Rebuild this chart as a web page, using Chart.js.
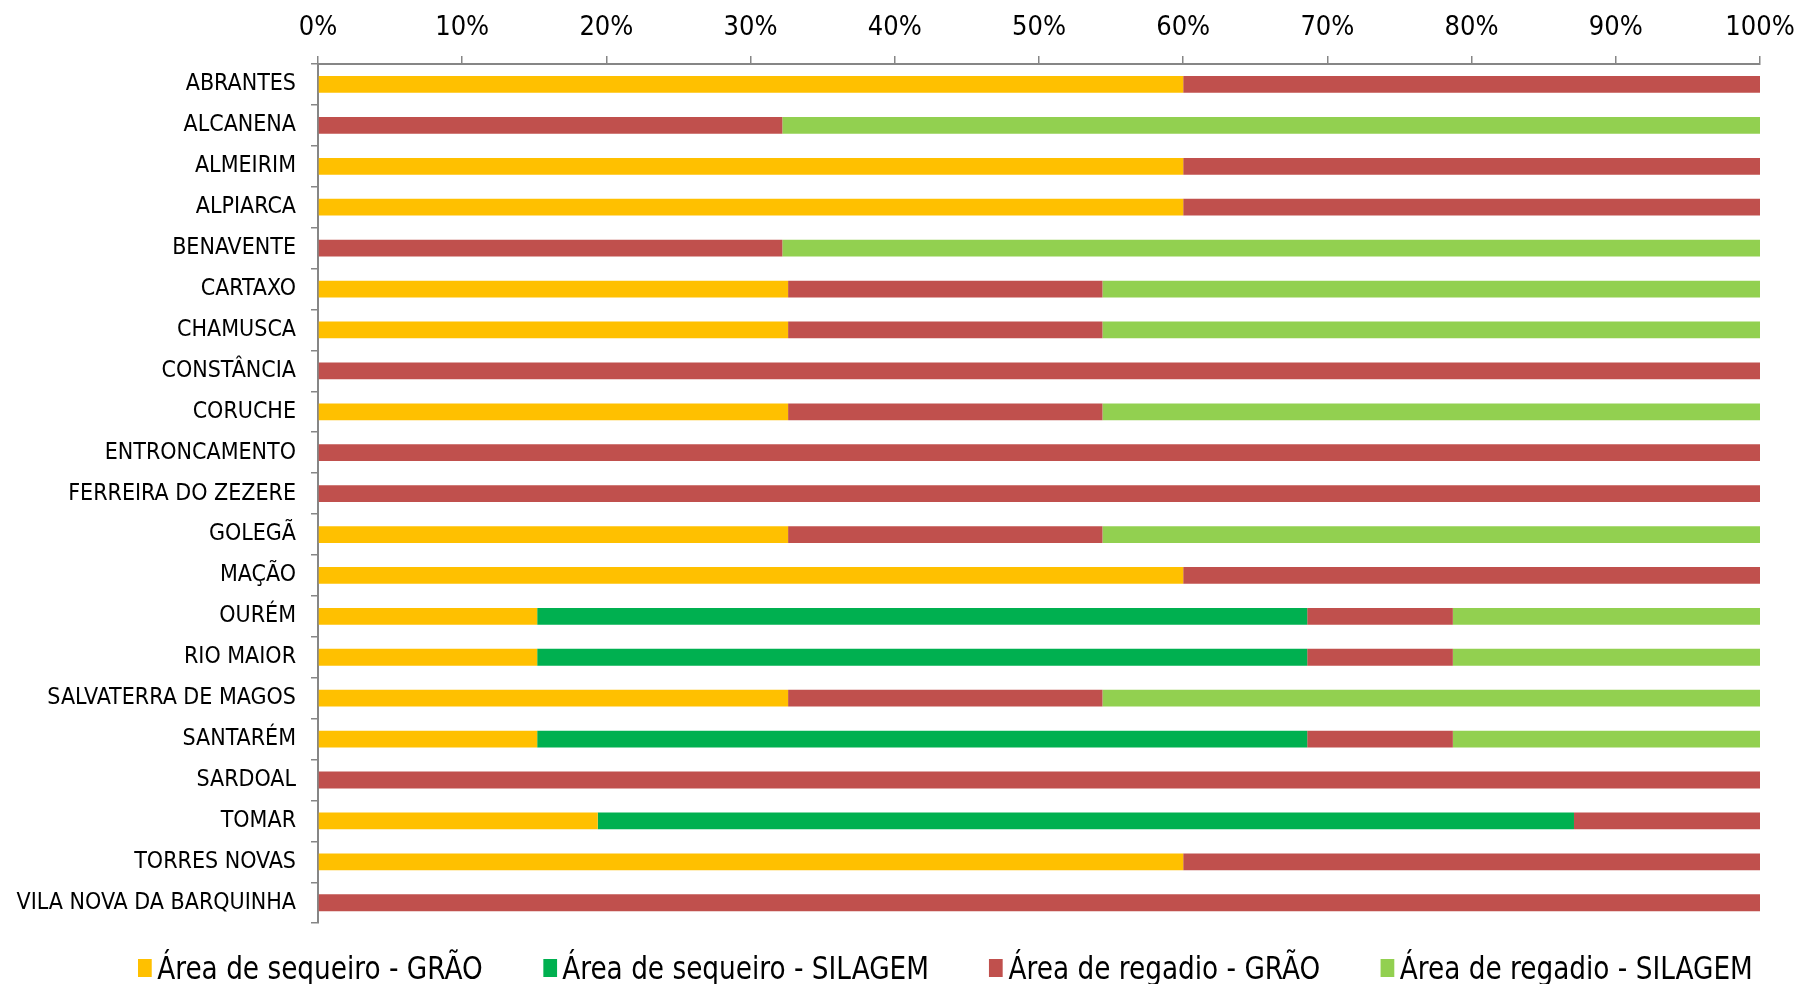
<!DOCTYPE html>
<html lang="pt">
<head>
<meta charset="utf-8">
<title>Área de sequeiro / regadio por concelho</title>
<script src="https://cdn.jsdelivr.net/npm/chart.js@4.4.1/dist/chart.umd.min.js"></script>
<style>
    body { margin: 0; background: #ffffff; }
    #wrap { position: relative; width: 1796px; height: 984px; overflow: hidden; }
    #chart-box { position: absolute; left: 0; top: 0; width: 1796px; height: 952px; }
    #legend {
        position: absolute; left: 138px; top: 946px;
        display: flex; gap: 66px;
        transform: scaleX(0.915); transform-origin: left center;
        font-family: "Liberation Sans Narrow", "DejaVu Sans Condensed", sans-serif;
        font-size: 32px; color: #000; line-height: 44px;
    }
    .item { display: flex; align-items: center; white-space: nowrap; }
    .box { display: inline-block; width: 15px; height: 18px; margin-right: 6px; }
</style>
</head>
<body>
<div id="wrap">
    <div id="chart-box"><canvas id="areaChart"></canvas></div>
    <div id="legend"></div>
</div>
<script>
// ----------------------------------------------------------
// Dados (percentagem da área por concelho)
// ----------------------------------------------------------
const municipios = [
    "ABRANTES", "ALCANENA", "ALMEIRIM", "ALPIARCA", "BENAVENTE", "CARTAXO",
    "CHAMUSCA", "CONSTÂNCIA", "CORUCHE", "ENTRONCAMENTO", "FERREIRA DO ZEZERE",
    "GOLEGÃ", "MAÇÃO", "OURÉM", "RIO MAIOR", "SALVATERRA DE MAGOS", "SANTARÉM",
    "SARDOAL", "TOMAR", "TORRES NOVAS", "VILA NOVA DA BARQUINHA"
];

const sequeiroGrao    = [60, 0, 60, 60, 0, 32.6, 32.6, 0, 32.6, 0, 0, 32.6, 60, 15.2, 15.2, 32.6, 15.2, 0, 19.4, 60, 0];
const sequeiroSilagem = [0, 0, 0, 0, 0, 0, 0, 0, 0, 0, 0, 0, 0, 53.4, 53.4, 0, 53.4, 0, 67.7, 0, 0];
const regadioGrao     = [40, 32.2, 40, 40, 32.2, 21.8, 21.8, 100, 21.8, 100, 100, 21.8, 40, 10.1, 10.1, 21.8, 10.1, 100, 12.9, 40, 100];
const regadioSilagem  = [0, 67.8, 0, 0, 67.8, 45.6, 45.6, 0, 45.6, 0, 0, 45.6, 0, 21.3, 21.3, 45.6, 21.3, 0, 0, 0, 0];

const seriesNomes = [
    "Área de sequeiro - GRÃO",
    "Área de sequeiro - SILAGEM",
    "Área de regadio - GRÃO",
    "Área de regadio - SILAGEM"
];
const seriesCores = ["#FFC000", "#00B050", "#C0504D", "#92D050"];
const seriesDados = [sequeiroGrao, sequeiroSilagem, regadioGrao, regadioSilagem];

const eixoTicks = [0, 10, 20, 30, 40, 50, 60, 70, 80, 90, 100];

// ----------------------------------------------------------
// Configuração geral
// ----------------------------------------------------------
Chart.defaults.font.family = '"Liberation Sans Narrow", "DejaVu Sans Condensed", sans-serif';
Chart.defaults.color = "#000000";

const corEixo = "#868686";

const datasets = seriesNomes.map((nome, i) => ({
    label: nome,
    data: seriesDados[i],
    backgroundColor: seriesCores[i],
    borderWidth: 0,
    barPercentage: 0.41,
    categoryPercentage: 1.0
}));

const ctx = document.getElementById("areaChart").getContext("2d");

new Chart(ctx, {
    type: "bar",
    data: {
        labels: municipios,
        datasets: datasets
    },
    options: {
        indexAxis: "y",
        responsive: true,
        maintainAspectRatio: false,
        animation: false,
        layout: {
            padding: { top: 0, right: 0, bottom: 11, left: 0 }
        },
        plugins: {
            legend: { display: false },
            tooltip: { enabled: false }
        },
        scales: {
            x: {
                position: "top",
                stacked: true,
                min: 0,
                max: 100,
                afterBuildTicks: (scale) => {
                    scale.ticks = eixoTicks.map(v => ({ value: v }));
                },
                afterFit: (scale) => {
                    scale.height = 64;
                    scale.paddingRight = 36;
                },
                ticks: {
                    font: { size: 27 },
                    padding: 12,
                    callback: (v) => v + "%"
                },
                grid: {
                    drawOnChartArea: false,
                    drawTicks: true,
                    tickLength: 8,
                    color: corEixo,
                    lineWidth: 1.5
                },
                border: { color: corEixo, width: 2 }
            },
            y: {
                stacked: true,
                afterFit: (scale) => { scale.width = 318; },
                ticks: {
                    font: { size: 23 },
                    padding: 15,
                    autoSkip: false
                },
                grid: {
                    offset: true,
                    drawOnChartArea: false,
                    drawTicks: true,
                    tickLength: 7,
                    color: corEixo,
                    lineWidth: 1.5
                },
                border: { color: corEixo, width: 2 }
            }
        }
    }
});

// ----------------------------------------------------------
// Legenda em HTML por baixo do gráfico
// ----------------------------------------------------------
const legenda = document.getElementById("legend");
seriesNomes.forEach((nome, i) => {
    const item = document.createElement("div");
    item.className = "item";
    const box = document.createElement("span");
    box.className = "box";
    box.style.background = seriesCores[i];
    item.appendChild(box);
    item.appendChild(document.createTextNode(nome));
    legenda.appendChild(item);
});
</script>
</body>
</html>
